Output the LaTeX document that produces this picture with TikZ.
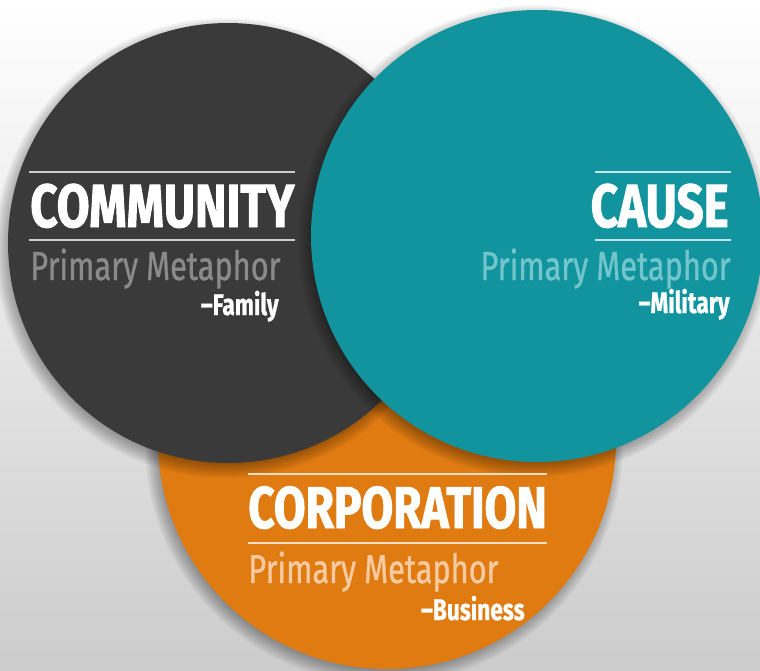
\documentclass[tikz,border=0pt]{standalone}
\usepackage{fontspec}
\setmainfont{Fira Sans}[FakeStretch=0.76, FakeBold=0.8]
\newfontfamily\headfont{Fira Sans}[FakeStretch=0.78, FakeBold=1.5]
\usepackage{tikz}
\usetikzlibrary{positioning}
\definecolor{darkdisc}{HTML}{3A3A3A}
\definecolor{tealdisc}{HTML}{12949E}
\definecolor{orangedisc}{HTML}{E07B12}
\definecolor{darksub}{HTML}{8A8A8A}
\definecolor{tealsub}{HTML}{72C5CB}
\definecolor{orangesub}{HTML}{F6CBA2}
% soft drop shadow under a disc: centre, radius
\newcommand\discshadow[2]{%
  \foreach \k in {0,...,11}
    \fill[black, opacity=0.035, shift={(-3,5)}] (#1) circle [radius=#2+10-1.5*\k];}

\begin{document}
\begin{tikzpicture}[x=0.2mm, y=-0.2mm,
	heading/.style={text=white, inner sep=0pt, font=\headfont\bfseries\fontsize{34.7}{36}\selectfont},
	metaphor/.style={inner sep=0pt, font=\fontsize{23}{24}\selectfont},
	kind/.style={text=white, inner sep=0pt, font=\bfseries\fontsize{17}{18}\selectfont},
	rule/.style={line width=0.6pt}]
	\shade [top color=white, bottom color=black!20] (0,0) rectangle (760,670);
	\clip (0,0) rectangle (760,670);
	% the three discs, back to front
	\discshadow{387,440}{229}
	\fill [orangedisc] (387,440) circle [radius=229];
	\discshadow{228,243}{220}
	\fill [darkdisc] (228,243) circle [radius=220];
	\discshadow{537,236}{226}
	\fill [tealdisc] (537,236) circle [radius=226];

	\draw [rule, white!75!darkdisc] (29,172) -- (295,172);
	\draw [rule, white!75!darkdisc] (29,240) -- (295,240);
	\node [heading, anchor=base west] (community) at (30,227) {COMMUNITY};
	\node [metaphor, text=darksub, anchor=base west] (communitymeta) at (30,280) {Primary Metaphor};
	\node [kind, anchor=base east] (family) at (279,315) {--Family};

	\draw [rule, white!75!tealdisc] (595,172) -- (731,172);
	\draw [rule, white!75!tealdisc] (595,240) -- (731,240);
	\node [heading, anchor=base east] (cause) at (729,227) {CAUSE};
	\node [metaphor, text=tealsub, anchor=base east] (causemeta) at (731,280) {Primary Metaphor};
	\node [kind, anchor=base east] (military) at (730,313) {--Military};

	\draw [rule, white!75!orangedisc] (248,474) -- (547,474);
	\draw [rule, white!75!orangedisc] (248,543) -- (547,543);
	\node [heading, anchor=base west, font=\headfont\bfseries\fontsize{33.5}{34}\selectfont] (corporation) at (248,528) {CORPORATION};
	\node [metaphor, text=orangesub, anchor=base west] (corporationmeta) at (248,583) {Primary Metaphor};
	\node [kind, anchor=base east] (business) at (525,620) {--Business};
\end{tikzpicture}
\end{document}
